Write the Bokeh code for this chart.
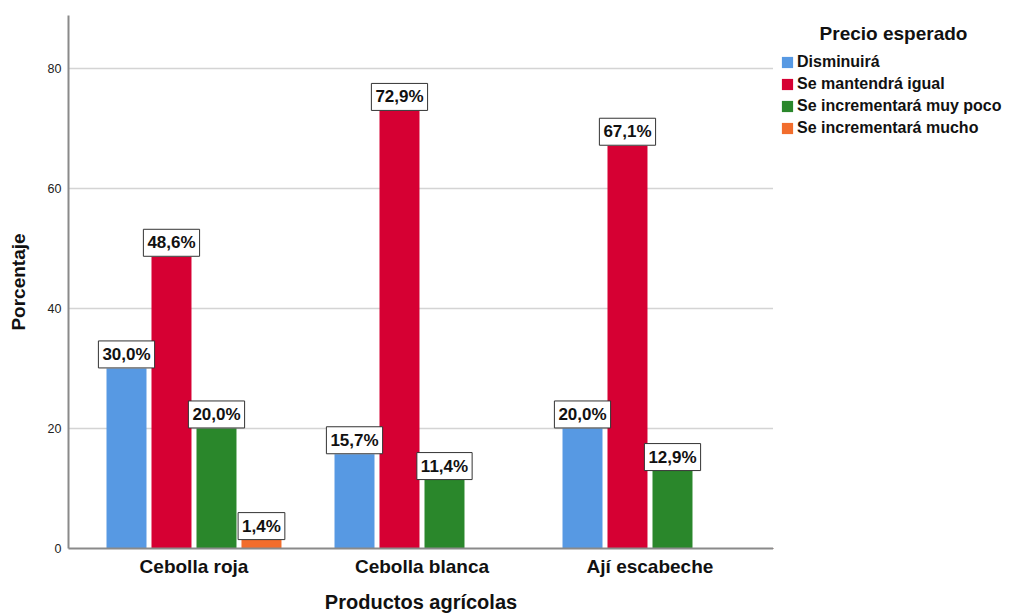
from bokeh.plotting import figure
from bokeh.layouts import row
from bokeh.models import Range1d, Label, Legend, LegendItem, FixedTicker
from bokeh.embed import file_html
from bokeh.resources import INLINE

productos = ["Cebolla roja", "Cebolla blanca", "Ají escabeche"]
series = ["Disminuirá", "Se mantendrá igual", "Se incrementará muy poco", "Se incrementará mucho"]
disminuira = [30.0, 15.7, 20.0]
igual = [48.6, 72.9, 67.1]
muy_poco = [20.0, 11.4, 12.9]
mucho = [1.4, None, None]
colores = ["#5799E3", "#D60033", "#2A872B", "#F26D2C"]
y_ticks = [0, 20, 40, 60, 80]

valores = [disminuira, igual, muy_poco, mucho]
offsets = [-0.296, -0.0987, 0.0987, 0.296]
FONT = "Liberation Sans"

p = figure(width=773, height=615,
           x_range=Range1d(-0.5504, 2.5417), y_range=Range1d(0, 88.8),
           output_backend="svg", toolbar_location=None,
           min_border_left=68, min_border_right=0,
           min_border_top=15, min_border_bottom=67)
p.outline_line_color = None
p.xgrid.grid_line_color = None
p.ygrid.grid_line_color = "#d4d4d4"
p.ygrid.grid_line_width = 1.5
p.ygrid.ticker = FixedTicker(ticks=y_ticks)

for ax in (p.xaxis, p.yaxis):
    ax.major_tick_out = 0
    ax.major_tick_in = 0
    ax.minor_tick_out = 0
    ax.minor_tick_in = 0
    ax.major_tick_line_color = None
    ax.minor_tick_line_color = None
    ax.axis_line_color = "#8a8a8a"
    ax.axis_line_width = 2
    ax.axis_label_text_font = FONT
    ax.axis_label_text_font_style = "bold"
    ax.axis_label_text_color = "#111111"
    ax.major_label_text_font = FONT

p.yaxis.ticker = FixedTicker(ticks=y_ticks)
p.yaxis.axis_label = "Porcentaje"
p.yaxis.axis_label_text_font_size = "19px"
p.yaxis.axis_label_standoff = 16
p.yaxis.major_label_text_font_size = "12.5px"
p.yaxis.major_label_text_color = "#222222"
p.yaxis.major_label_standoff = 7

p.xaxis.ticker = FixedTicker(ticks=list(range(len(productos))))
p.xaxis.major_label_overrides = {i: n for i, n in enumerate(productos)}
p.xaxis.axis_label = "Productos agrícolas"
p.xaxis.axis_label_text_font_size = "20px"
p.xaxis.axis_label_standoff = 11
p.xaxis.major_label_text_font_size = "19px"
p.xaxis.major_label_text_font_style = "bold"
p.xaxis.major_label_text_color = "#111111"
p.xaxis.major_label_standoff = 7

bar_data = []
for name, vals, off, col in zip(series, valores, offsets, colores):
    xs = [i + off for i, v in enumerate(vals) if v is not None]
    ys = [v for v in vals if v is not None]
    bar_data.append((xs, ys))
    p.vbar(x=xs, top=ys, width=0.1754, fill_color=col, line_color=None)
    for x, v in zip(xs, ys):
        txt = f"{v:.1f}".replace(".", ",") + "%"
        p.add_layout(Label(x=x, y=v, text=txt, text_align="center", text_baseline="middle",
                           y_offset=14, text_font=FONT, text_font_size="17px",
                           text_font_style="bold", text_color="#111111",
                           background_fill_color="white", border_line_color="#333333",
                           border_line_width=1, padding=4))

# legend panel (its ranges lie far away from the data, so only the legend shows)
q = figure(width=238, height=615, x_range=Range1d(100, 101), y_range=Range1d(500, 600),
           output_backend="svg", toolbar_location=None,
           x_axis_location=None, y_axis_location=None,
           min_border_left=0, min_border_right=0, min_border_top=15, min_border_bottom=67)
q.outline_line_color = None
q.grid.grid_line_color = None
items = []
for name, col, (xs, ys) in zip(series, colores, bar_data):
    r = q.vbar(x=xs, top=ys, width=0.1754, fill_color=col, line_color=None)
    items.append(LegendItem(label=name, renderers=[r]))

legend = Legend(items=items, location=(7, 409), padding=0, margin=0, spacing=0,
                glyph_width=14, glyph_height=14, label_height=22, label_standoff=3,
                label_text_font=FONT, label_text_font_size="16px",
                label_text_font_style="bold", label_text_color="#111111",
                border_line_color=None, background_fill_alpha=0)
q.add_layout(legend)
q.add_layout(Label(x=120, y=515, x_units="screen", y_units="screen", text="Precio esperado",
                   text_align="center", text_baseline="middle", text_font=FONT,
                   text_font_size="19px", text_font_style="bold", text_color="#111111"))

open("out.html", "w").write(file_html(row(p, q), INLINE))
